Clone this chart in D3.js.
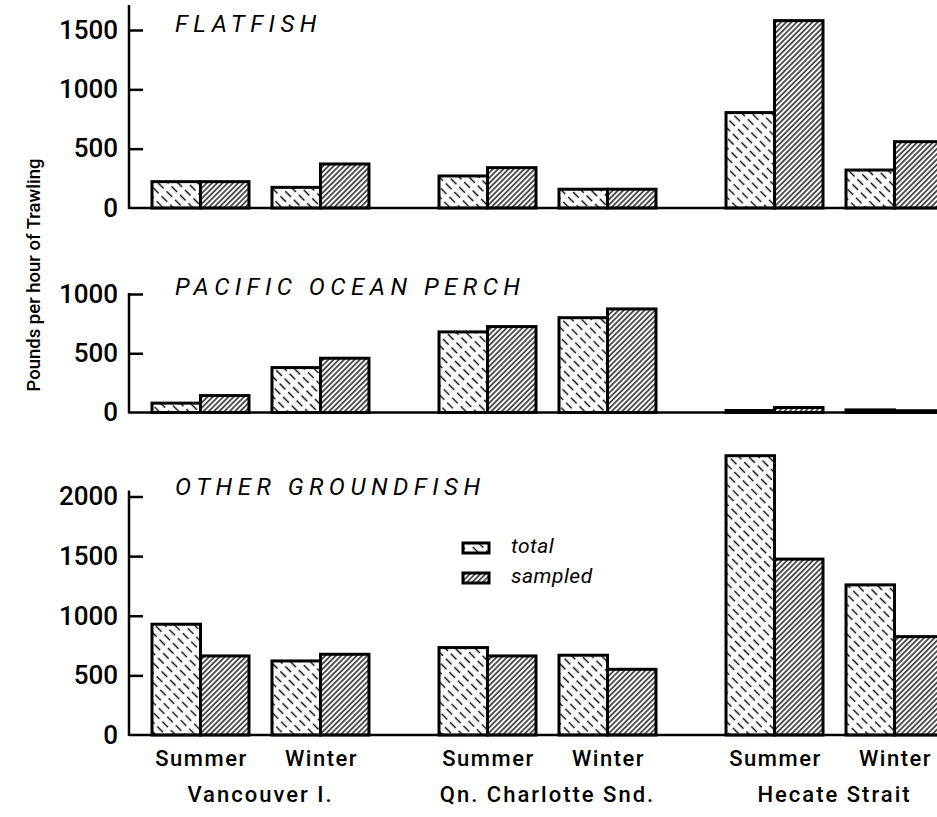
<!DOCTYPE html>
<html>
<head>
<meta charset="utf-8">
<script src="https://cdn.jsdelivr.net/npm/d3@7/dist/d3.min.js"></script>
<style>
  html, body { margin: 0; padding: 0; background: #fff; }
  svg { display: block; }
  text { font-family: Roboto, "Liberation Sans", Arial, sans-serif; fill: #000; }
</style>
</head>
<body>
<svg id="chart" width="937" height="817"></svg>
<script>
// ---- data ----
const regions = ["Vancouver I.", "Qn. Charlotte Snd.", "Hecate Strait"];
const seasons = ["Summer", "Winter"];
const seriesNames = ["total", "sampled"];
const panelTitles = ["FLATFISH", "PACIFIC OCEAN PERCH", "OTHER GROUNDFISH"];
// values in order: Van Summer, Van Winter, QCS Summer, QCS Winter, Hecate Summer, Hecate Winter
const flatfishTotal   = [222, 174, 270, 158, 804, 320];
const flatfishSampled = [222, 371, 340, 158, 1579, 559];
const perchTotal      = [79, 379, 680, 800, 17, 22];
const perchSampled    = [143, 458, 725, 874, 42, 15];
const otherTotal      = [929, 621, 733, 669, 2342, 1259];
const otherSampled    = [663, 677, 663, 551, 1475, 825];
const flatfishTicks = [0, 500, 1000, 1500];
const perchTicks    = [0, 500, 1000];
const otherTicks    = [0, 500, 1000, 1500, 2000];
const yAxisLabel = "Pounds per hour of Trawling";

// ---- layout ----
const svg = d3.select("#chart");
const W = 937;
const axisX = 129;

const defs = svg.append("defs");
// total: dashed back-slash hatch
const pT = defs.append("pattern").attr("id", "hTotal")
  .attr("patternUnits", "userSpaceOnUse").attr("width", 7).attr("height", 12)
  .attr("patternTransform", "rotate(-45)");
pT.append("rect").attr("width", 7).attr("height", 12).attr("fill", "#fff");
pT.append("line").attr("x1", 3.5).attr("x2", 3.5).attr("y1", 1).attr("y2", 9)
  .attr("stroke", "#000").attr("stroke-width", 1.4);
// sampled: dense solid forward-slash hatch
const pS = defs.append("pattern").attr("id", "hSampled")
  .attr("patternUnits", "userSpaceOnUse").attr("width", 3.7).attr("height", 10)
  .attr("patternTransform", "rotate(45)");
pS.append("rect").attr("width", 3.7).attr("height", 10).attr("fill", "#fff");
pS.append("line").attr("x1", 1.85).attr("x2", 1.85).attr("y1", 0).attr("y2", 10)
  .attr("stroke", "#000").attr("stroke-width", 1.3);
const fills = { total: "url(#hTotal)", sampled: "url(#hSampled)" };

const xRegion = d3.scaleBand().domain(regions).range([152, 943]).paddingInner(0.244).paddingOuter(0);
const xSeason = d3.scaleBand().domain(seasons).range([0, xRegion.bandwidth()]).paddingInner(0.1917).paddingOuter(0);
const xSeries = d3.scaleBand().domain(seriesNames).range([0, xSeason.bandwidth()]).padding(0);

const panels = [
  { title: panelTitles[0], total: flatfishTotal, sampled: flatfishSampled, ticks: flatfishTicks,
    base: 208, topVal: 1500, topPx: 30, axisTopVal: 1710, titleY: 32 },
  { title: panelTitles[1], total: perchTotal, sampled: perchSampled, ticks: perchTicks,
    base: 412.5, topVal: 1000, topPx: 294, axisTopVal: 1008, titleY: 295 },
  { title: panelTitles[2], total: otherTotal, sampled: otherSampled, ticks: otherTicks,
    base: 735, topVal: 2000, topPx: 496.5, axisTopVal: 2050, titleY: 495 }
];

panels.forEach(p => {
  const y = d3.scaleLinear().domain([0, p.topVal]).range([p.base, p.topPx]);
  const g = svg.append("g");

  // bars
  const rows = [];
  regions.forEach((r, ri) => seasons.forEach((s, si) => {
    const idx = ri * seasons.length + si;
    seriesNames.forEach(sn => rows.push({ region: r, season: s, series: sn, value: p[sn][idx] }));
  }));
  g.selectAll("rect.bar").data(rows).join("rect")
    .attr("class", "bar")
    .attr("x", d => xRegion(d.region) + xSeason(d.season) + xSeries(d.series))
    .attr("y", d => y(d.value))
    .attr("width", xSeries.bandwidth())
    .attr("height", d => y(0) - y(d.value))
    .attr("fill", d => fills[d.series])
    .attr("stroke", "#000").attr("stroke-width", 3)
    .attr("stroke-linejoin", "miter");

  // baseline
  g.append("line").attr("x1", axisX).attr("x2", W + 10).attr("y1", y(0)).attr("y2", y(0))
    .attr("stroke", "#000").attr("stroke-width", 2.5);
  // vertical axis line
  g.append("line").attr("x1", axisX).attr("x2", axisX).attr("y1", y(0) + 1).attr("y2", y(p.axisTopVal))
    .attr("stroke", "#000").attr("stroke-width", 2.5);

  // ticks & labels via d3 axis
  const ax = d3.axisLeft(y).tickValues(p.ticks).tickFormat(d3.format("d"))
    .tickSizeInner(-14).tickSizeOuter(0).tickPadding(11);
  const axG = g.append("g").attr("transform", `translate(${axisX},0)`).call(ax);
  axG.select(".domain").remove();
  axG.selectAll(".tick line").attr("stroke", "#000").attr("stroke-width", 2.5)
    .filter(d => d === 0).remove();
  axG.selectAll(".tick text")
    .style("font-size", "26px").style("font-weight", "500").attr("fill", "#000");

  // title
  g.append("text").attr("x", 175).attr("y", p.titleY)
    .style("font-size", "24px").style("font-style", "italic").style("font-weight", "400")
    .attr("letter-spacing", 5.5)
    .text(p.title);
});

// x-axis season labels
const labelRows = [];
regions.forEach(r => seasons.forEach(s => labelRows.push({ region: r, season: s })));
svg.append("g").selectAll("text").data(labelRows).join("text")
  .attr("x", d => xRegion(d.region) + xSeason(d.season) + xSeason.bandwidth() / 2 + 1)
  .attr("y", 766)
  .attr("text-anchor", "middle")
  .style("font-size", "22px").style("font-weight", "500").attr("letter-spacing", 1.5)
  .text(d => d.season);
// region labels
svg.append("g").selectAll("text").data(regions).join("text")
  .attr("x", d => xRegion(d) + xRegion.bandwidth() / 2)
  .attr("y", 802)
  .attr("text-anchor", "middle")
  .style("font-size", "22px").style("font-weight", "500").attr("letter-spacing", 2)
  .text(d => d);

// y axis title
svg.append("text")
  .attr("transform", "translate(40,275) rotate(-90)")
  .attr("text-anchor", "middle")
  .style("font-size", "18.5px").style("font-weight", "500")
  .text(yAxisLabel);

// legend
const legend = svg.append("g");
seriesNames.forEach((sn, i) => {
  legend.append("rect").attr("x", 463).attr("y", 543 + i * 30).attr("width", 26).attr("height", 10)
    .attr("fill", fills[sn]).attr("stroke", "#000").attr("stroke-width", 3);
  legend.append("text").attr("x", 511).attr("y", 553 + i * 30)
    .style("font-size", "21px").style("font-style", "italic").style("font-weight", "400")
    .attr("letter-spacing", 0.5)
    .text(sn);
});
</script>
</body>
</html>
